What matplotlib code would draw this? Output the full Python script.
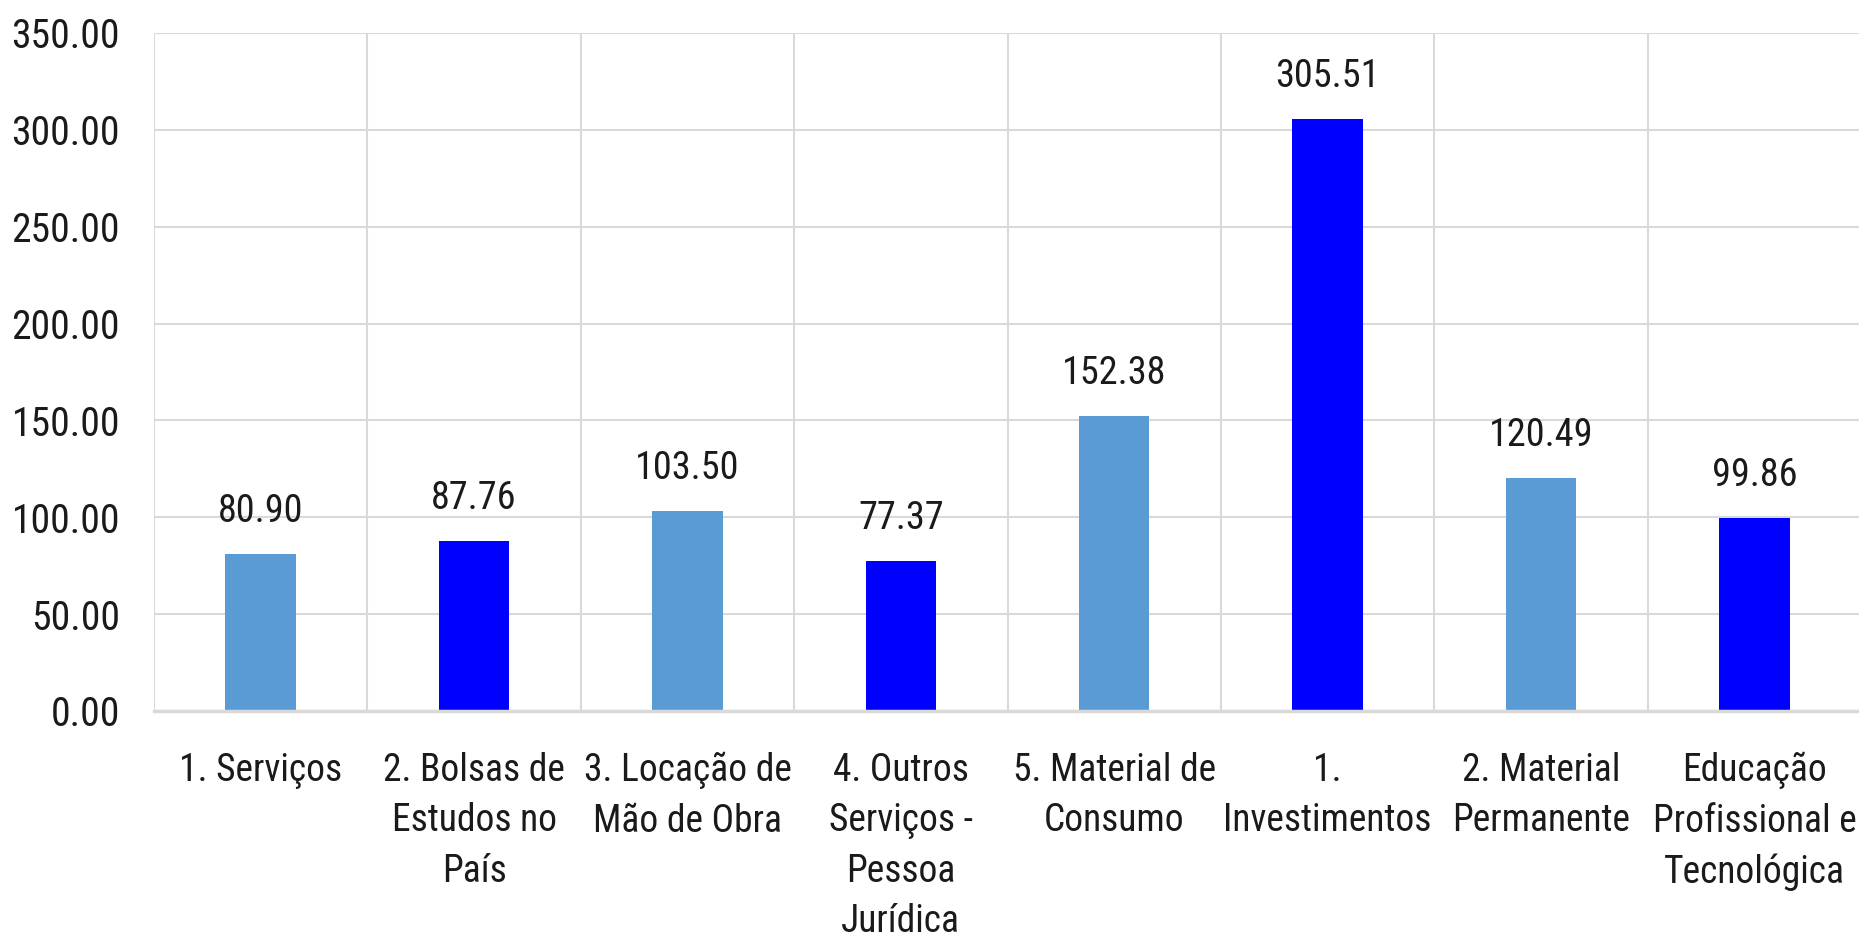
import matplotlib
matplotlib.use("Agg")
import matplotlib.pyplot as plt
from matplotlib.ticker import FuncFormatter, MultipleLocator, FixedLocator

categories = [
    "1. Serviços",
    "2. Bolsas de\nEstudos no\nPaís",
    "3. Locação de\nMão de Obra",
    "4. Outros\nServiços -\nPessoa\nJurídica",
    "5. Material de\nConsumo",
    "1.\nInvestimentos",
    "2. Material\nPermanente",
    "Educação\nProfissional e\nTecnológica",
]
values = [80.90, 87.76, 103.50, 77.37, 152.38, 305.51, 120.49, 99.86]
bar_colors = ["#5B9BD5", "#0000FF", "#5B9BD5", "#0000FF",
              "#5B9BD5", "#0000FF", "#5B9BD5", "#0000FF"]

plt.rcParams['font.family'] = ['Roboto Condensed', 'DejaVu Sans']

W, H = 1859, 941
fig = plt.figure(figsize=(W / 100, H / 100), dpi=100)
left_px, zero_px, top_px = 154, 711, 33
ax = fig.add_axes([left_px / W, 1 - zero_px / H, 1 - left_px / W, (zero_px - top_px) / H])

x = list(range(len(categories)))
ax.bar(x, values, width=0.33, color=bar_colors, zorder=3)

for xi, v in zip(x, values):
    ax.annotate(f"{v:.2f}", (xi, v), xytext=(0, 23), textcoords="offset points",
                ha="center", va="baseline", fontsize=27.5, color="#1a1a1a")

ax.set_xlim(-0.5, 7.49)
ax.set_ylim(0, 350)
ax.yaxis.set_major_locator(MultipleLocator(50))
ax.yaxis.set_major_formatter(FuncFormatter(lambda v, p: f"{v:.2f}"))
ax.set_xticks(x)
ax.set_xticklabels(categories, fontsize=27, color="#1a1a1a", linespacing=1.46)
ax.xaxis.set_minor_locator(FixedLocator([i - 0.5 for i in range(len(categories))]))

ax.tick_params(axis="x", which="major", length=0, pad=29.5)
ax.tick_params(axis="x", which="minor", length=0)
ax.tick_params(axis="y", length=0, pad=24.5, labelsize=28.5, labelcolor="#1a1a1a")

ax.grid(axis="y", which="major", color="#D9D9D9", linewidth=1.5, zorder=0)
ax.grid(axis="x", which="minor", color="#D9D9D9", linewidth=1.5, zorder=0)
ax.grid(axis="x", which="major", visible=False)

for s in ["top", "right", "left"]:
    ax.spines[s].set_visible(False)
ax.spines["bottom"].set_color("#D9D9D9")
ax.spines["bottom"].set_linewidth(2.5)
ax.spines["bottom"].set_zorder(4)

fig.savefig("out.png", dpi=100)
